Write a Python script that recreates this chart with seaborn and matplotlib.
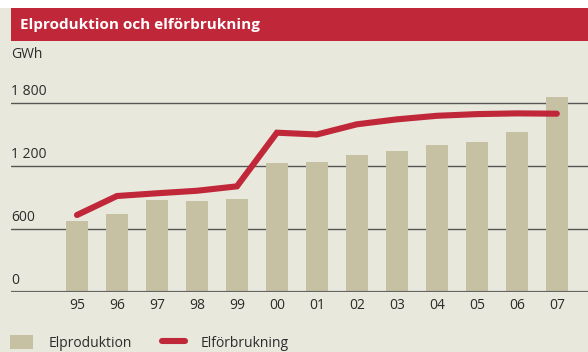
import numpy as np
import pandas as pd
import seaborn as sns
import matplotlib.pyplot as plt
from matplotlib.patches import Rectangle, Patch
from matplotlib.lines import Line2D
import matplotlib.transforms as mtransforms

# Annual electricity production and consumption, GWh
years = ["95", "96", "97", "98", "99", "00", "01", "02", "03", "04", "05", "06", "07"]
elproduktion = [680, 745, 878, 868, 888, 1231, 1241, 1307, 1345, 1402, 1431, 1526, 1860]
elforbrukning = [736, 917, 943, 967, 1009, 1520, 1503, 1600, 1647, 1681, 1697, 1704, 1701]
y_ticks = [0, 600, 1200, 1800]
y_tick_labels = ["0", "600", "1 200", "1 800"]

title = "Elproduktion och elförbrukning"
unit = "GWh"
legend_labels = ["Elproduktion", "Elförbrukning"]

BG = "#e9e8dd"
BAR = "#c6c1a2"
RED = "#c0283a"
TXT = "#2b2b2b"

sns.set_theme(style="white")
plt.rcParams["font.family"] = ["Open Sans", "DejaVu Sans"]

df = pd.DataFrame({"year": years, "prod": elproduktion, "cons": elforbrukning})
df["pos"] = np.arange(len(df))

W, H = 588, 352
fig = plt.figure(figsize=(W / 100, H / 100), dpi=100)
fig.patch.set_facecolor(BG)

# white strip along the top edge and red title band
fig.patches.append(Rectangle((0, (H - 8) / H), 1, 8 / H, transform=fig.transFigure,
                             facecolor="white", edgecolor="none", zorder=0))
fig.patches.append(Rectangle((11 / W, (H - 41) / H), 1 - 11 / W, 33 / H,
                             transform=fig.transFigure, facecolor=RED,
                             edgecolor="none", zorder=0))
fig.text(20 / W, (H - 24.5) / H, title, color="white", fontsize=11,
         fontweight="bold", va="center", ha="left")
fig.text(11 / W, (H - 55) / H, unit, color=TXT, fontsize=10, va="center", ha="left")

ymax = 1900
px_per_unit = 63.0 / 600
ax_h = ymax * px_per_unit
ax = fig.add_axes([11 / W, (H - 292.3) / H, 1 - 11 / W, ax_h / H])
ax.set_facecolor(BG)

sns.barplot(data=df, x="year", y="prod", color=BAR, width=0.55, saturation=1,
            linewidth=0, edgecolor="none", ax=ax, zorder=2)
sns.lineplot(data=df, x="pos", y="cons", color=RED, linewidth=4.4, ax=ax,
             zorder=3, solid_capstyle="round", solid_joinstyle="miter")

ax.set_xlim(-1.65, 12.78)
ax.set_ylim(0, ymax)
ax.set_xlabel("")
ax.set_ylabel("")
for s in ax.spines.values():
    s.set_visible(False)

# horizontal grid lines with labels sitting on top of them
for v, lab in zip(y_ticks, y_tick_labels):
    ax.axhline(v, color="#555555" if v else "#666666", linewidth=1.0 if v else 1.6,
               zorder=1 if v else 4)
    off = mtransforms.offset_copy(ax.transData, fig=fig, x=0, y=3, units="points")
    blend = mtransforms.blended_transform_factory(ax.transAxes, off)
    ax.text(0, v, lab, transform=blend, fontsize=10, color=TXT, ha="left",
            va="bottom")

ax.set_yticks([])
ax.set_xticks(np.arange(len(years)))
ax.set_xticklabels(years)
ax.tick_params(axis="x", length=0, pad=4, labelsize=10, labelcolor=TXT)

handles = [Patch(facecolor=BAR, edgecolor="none"),
           Line2D([0], [0], color=RED, linewidth=4.4)]
fig.legend(handles, legend_labels, loc="center left",
           bbox_to_anchor=(10 / W, (H - 343) / H), ncol=2, frameon=False,
           fontsize=10, handlelength=1.65, handleheight=1.2,
           handletextpad=1.1, columnspacing=2.2, borderpad=0,
           borderaxespad=0, labelcolor=TXT)

fig.savefig("out.png", dpi=100, facecolor=BG)
